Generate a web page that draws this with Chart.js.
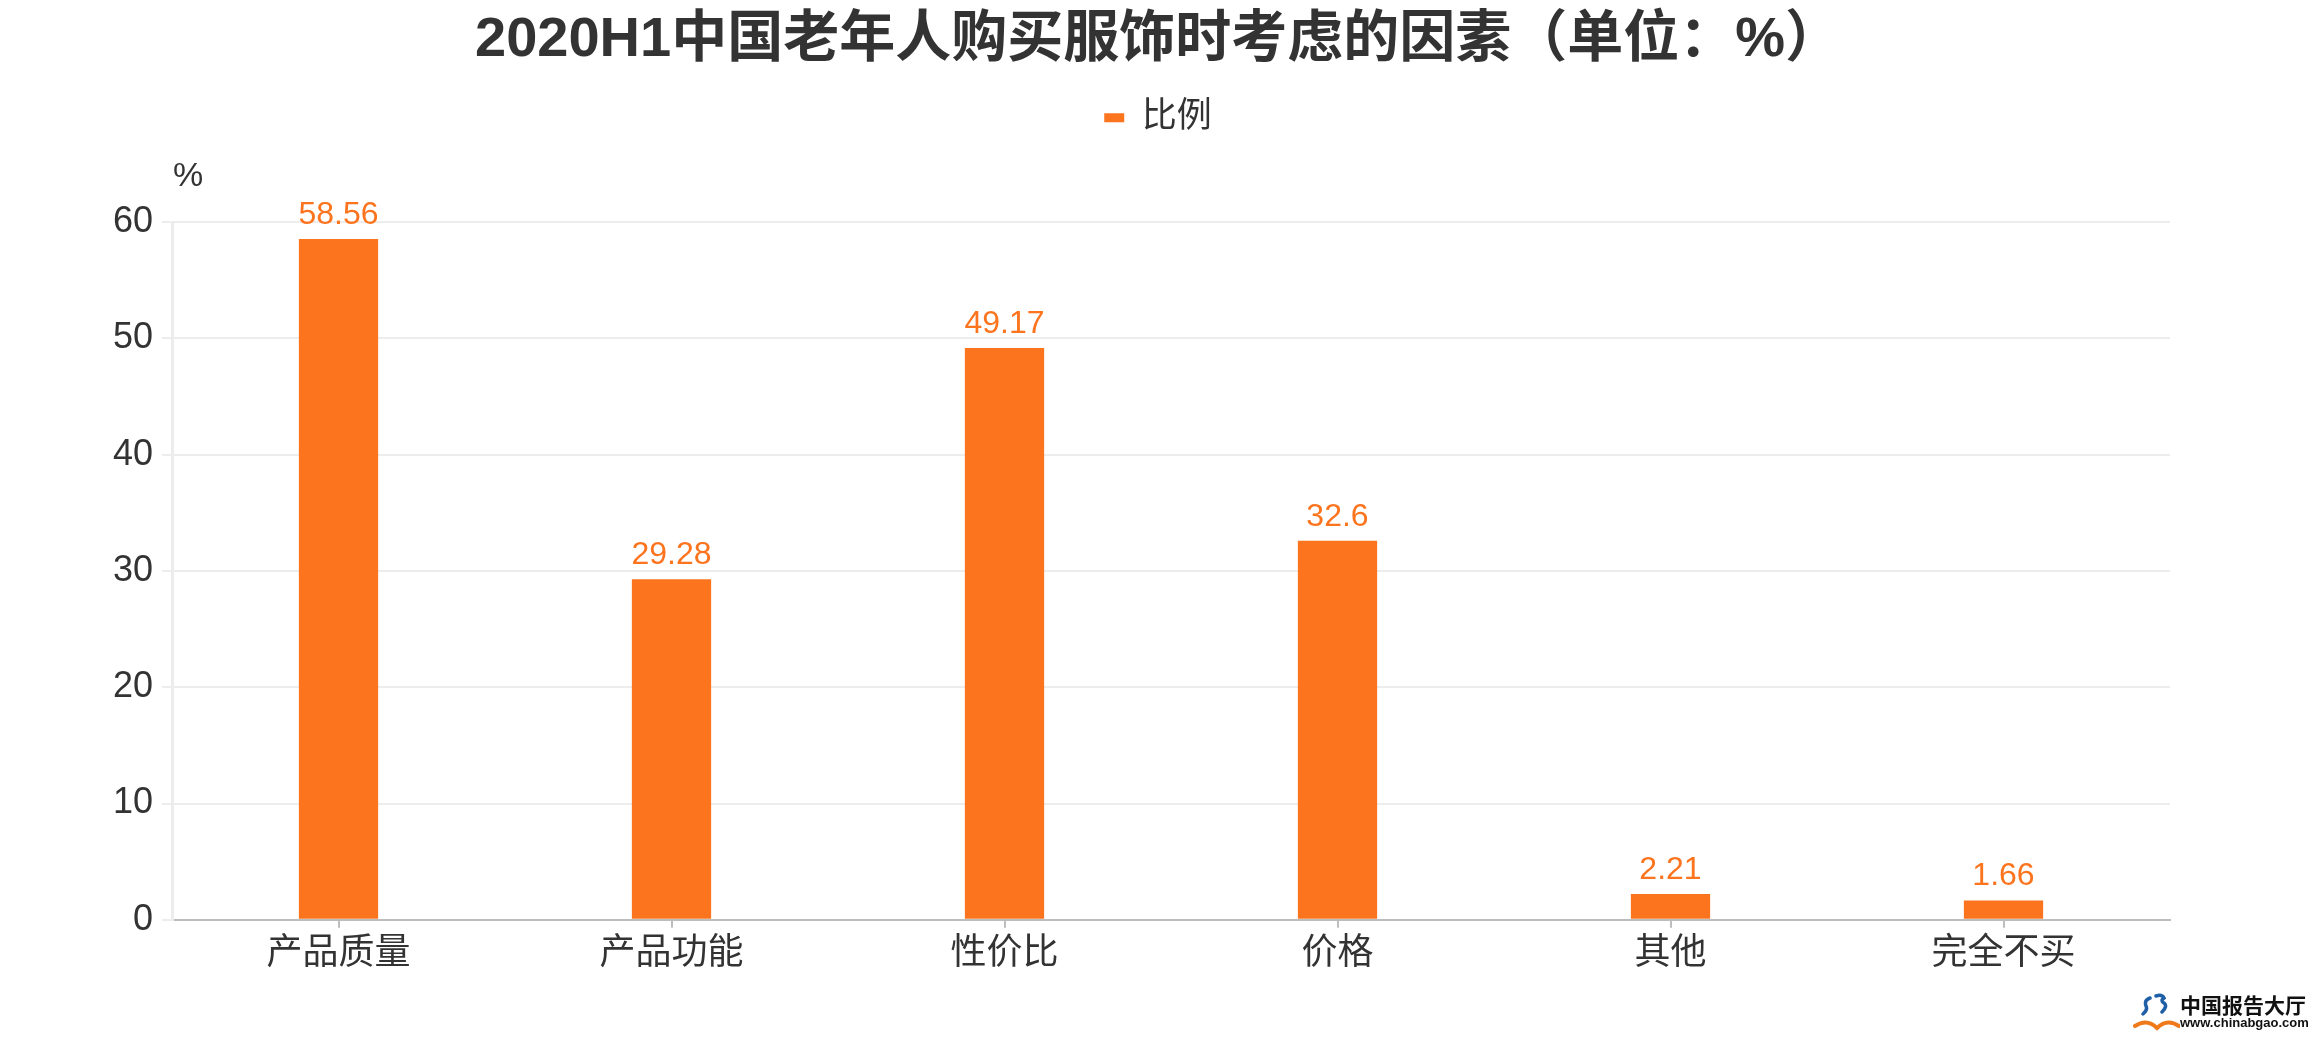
<!DOCTYPE html>
<html>
<head>
<meta charset="utf-8">
<style>
  html, body { margin: 0; padding: 0; background: #ffffff; }
  #wrap { position: relative; width: 2322px; height: 1040px; overflow: hidden; }
  #c { display: block; }
  #wm { position: absolute; left: 2132px; top: 992px; width: 190px; height: 44px; }
  #wm .name { position: absolute; left: 48px; top: 0px; font: bold 21px "Noto Sans CJK SC", sans-serif; color: #111; line-height: 24px; white-space: nowrap; }
  #wm .url { position: absolute; left: 48px; top: 24px; font: bold 13px "Liberation Sans", Arial, sans-serif; color: #111; line-height: 14px; white-space: nowrap; }
  #wm svg { position: absolute; left: 0; top: 0; }
</style>
<script src="https://cdn.jsdelivr.net/npm/chart.js@4.4.1/dist/chart.umd.min.js"></script>
</head>
<body>
<div id="wrap">
  <canvas id="c" width="2322" height="1040"></canvas>
  <div id="wm">
    <svg width="48" height="44" viewBox="0 0 48 44">
      <path d="M18 6 q-6 2 -4 8 q2 4 -3 8 M24 4 q6 -2 8 2 q-4 3 0 5 q4 3 -2 9" stroke="#1f5fa8" stroke-width="3.5" fill="none" stroke-linecap="round"/>
      <path d="M3 34 q12 -8 22 2 q10 -10 22 -2" stroke="#f07a1a" stroke-width="4" fill="none" stroke-linecap="round"/>
    </svg>
    <div class="name">中国报告大厅</div>
    <div class="url">www.chinabgao.com</div>
  </div>
</div>
<script>
const categories = ['产品质量', '产品功能', '性价比', '价格', '其他', '完全不买'];
const values = [58.56, 29.28, 49.17, 32.6, 2.21, 1.66];
const yTicks = [0, 10, 20, 30, 40, 50, 60];
const seriesName = '比例';
const titleText = '2020H1中国老年人购买服饰时考虑的因素（单位：%）';
const yUnit = '%';

const ORANGE = '#fc741e';
const TEXT = '#333333';
const FONT = '"Liberation Sans", "Noto Sans CJK SC", Arial, sans-serif';

Chart.defaults.font.family = FONT;
Chart.defaults.color = TEXT;

const valueLabels = {
  id: 'valueLabels',
  afterDatasetsDraw(chart) {
    const ctx = chart.ctx;
    const meta = chart.getDatasetMeta(0);
    ctx.save();
    ctx.fillStyle = ORANGE;
    ctx.font = '32px ' + FONT;
    ctx.textAlign = 'center';
    ctx.textBaseline = 'alphabetic';
    meta.data.forEach((bar, i) => {
      ctx.fillText(String(chart.data.datasets[0].data[i]), bar.x, bar.y - 15);
    });
    ctx.restore();
  }
};

const unitLabel = {
  id: 'unitLabel',
  afterDraw(chart) {
    const ctx = chart.ctx;
    const ys = chart.scales.y;
    ctx.save();
    ctx.fillStyle = TEXT;
    ctx.font = '34px ' + FONT;
    ctx.textAlign = 'left';
    ctx.textBaseline = 'middle';
    ctx.fillText(yUnit, ys.right + 1, chart.chartArea.top - 46);
    ctx.restore();
  }
};

new Chart(document.getElementById('c'), {
  type: 'bar',
  data: {
    labels: categories,
    datasets: [{
      label: seriesName,
      data: values,
      backgroundColor: ORANGE,
      borderWidth: 0,
      barPercentage: 0.238,
      categoryPercentage: 1.0
    }]
  },
  options: {
    responsive: false,
    devicePixelRatio: 1,
    animation: false,
    layout: { padding: { left: 0, right: 6, top: 0, bottom: 59 } },
    plugins: {
      title: {
        display: true,
        text: titleText,
        color: TEXT,
        font: { size: 56, weight: 'bold', family: FONT },
        padding: { top: 7, bottom: 16 }
      },
      subtitle: {
        display: true,
        text: '',
        weight: 500,
        font: { size: 2, lineHeight: 1 },
        padding: { top: 0, bottom: 75 }
      },
      legend: {
        display: true,
        labels: {
          boxWidth: 20,
          boxHeight: 9,
          color: TEXT,
          font: { size: 35, family: FONT },
          padding: 10
        }
      },
      tooltip: { enabled: false }
    },
    scales: {
      x: {
        offset: true,
        grid: {
          offset: false,
          drawOnChartArea: false,
          drawTicks: true,
          tickLength: 8,
          color: '#bdbdbd',
          lineWidth: 2
        },
        border: { display: true, color: '#bdbdbd', width: 2 },
        ticks: { color: TEXT, font: { size: 36, family: FONT }, padding: 5, maxRotation: 0, autoSkip: false }
      },
      y: {
        min: yTicks[0],
        max: yTicks[yTicks.length - 1],
        afterFit(scale) { scale.width = 172; },
        afterBuildTicks(scale) { scale.ticks = yTicks.map(v => ({ value: v })); },
        grid: { color: '#ededed', lineWidth: 2, tickLength: 10 },
        border: { display: true, color: '#ececec', width: 3 },
        ticks: { color: TEXT, font: { size: 36, family: FONT }, padding: 9 }
      },
      yRightSpace: {
        type: 'linear',
        position: 'right',
        display: true,
        afterFit(scale) { scale.width = 146; },
        grid: { display: false, drawTicks: false },
        border: { display: false },
        ticks: { display: false }
      }
    }
  },
  plugins: [valueLabels, unitLabel]
});
</script>
</body>
</html>
